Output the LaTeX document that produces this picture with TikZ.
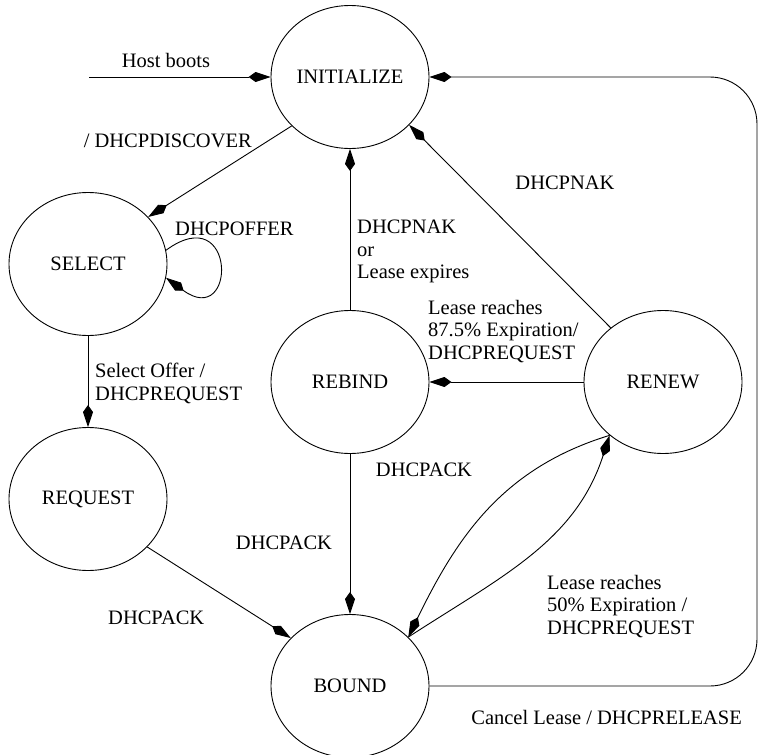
\documentclass[tikz,border=0pt]{standalone}
\usepackage{fontspec}
\setmainfont{Liberation Serif}
\usetikzlibrary{arrows.meta,shapes.geometric}
\begin{document}
\begin{tikzpicture}[x=1pt,y=-1pt,
  state/.style={ellipse,draw,line width=0.9pt,minimum width=158pt,minimum height=143pt,
    inner sep=0pt,font=\fontsize{20.5}{24}\selectfont},
  lbl/.style={font=\fontsize{20.5}{22.5}\selectfont,inner sep=0pt,align=left},
  tr/.style={line width=0.9pt,-{Kite[length=22pt,width=10pt,inset=7pt]}},
]
\useasboundingbox (0,0) rectangle (758,755);

% states of the DHCP client
\node[state] (init)    at (350,77)  {INITIALIZE};
\node[state] (select)  at (88,264)  {SELECT};
\node[state] (request) at (88,499)  {REQUEST};
\node[state] (rebind)  at (350,382) {REBIND};
\node[state] (renew)   at (663,382) {RENEW};
\node[state] (bound)   at (350,686) {BOUND};

% entry point
\coordinate (boot) at (89,77);
\draw[tr] (boot) -- (init);
\node[lbl,anchor=base] (lboot) at (166,67) {Host boots};

% transitions
\draw[tr] (init.220) -- (select.38);
\node[lbl,anchor=base east] (ldisc) at (252,147) {/ DHCPDISCOVER};

\draw[tr] (select.10) .. controls +(71,-52) and +(71,52) .. (select.-10);
\node[lbl,anchor=base west] (loffer) at (175,235) {DHCPOFFER};

\draw[tr] (select.south) -- (request.north);
\node[lbl,anchor=north west] (lsel) at (95,363) {Select Offer /\\DHCPREQUEST};

\draw[tr] (request.-39) -- (bound.141);
\node[lbl,anchor=base west] (lack1) at (108,624) {DHCPACK};

\draw[tr] (rebind.north) -- (init.south);
\node[lbl,anchor=north west] (lnak1) at (357,220) {DHCPNAK\\or\\Lease expires};

\draw[tr] (renew.134) -- (init.-39);
\node[lbl] (lnak2) at (565,183) {DHCPNAK};

\draw[tr] (renew.west) -- (rebind.east);
\node[lbl,anchor=north west] (lren) at (428,300) {Lease reaches\\87.5\% Expiration/\\DHCPREQUEST};

\draw[tr] (rebind.south) -- (bound.north);
\node[lbl] (lack2) at (284,543) {DHCPACK};

\draw[tr] (renew.225) to[out=197,in=64] (bound.40);
\node[lbl] (lack3) at (424,470) {DHCPACK};

\draw[tr] (bound.40) to[out=33,in=252] (renew.225);
\node[lbl,anchor=north west] (lhalf) at (547,575) {Lease reaches\\50\% Expiration /\\DHCPREQUEST};

\draw[tr,rounded corners=47pt] (bound.east) -- (757,686) -- (757,77) -- (init.east);
\node[lbl,anchor=base east] (lcancel) at (742,724) {Cancel Lease / DHCPRELEASE};
\end{tikzpicture}
\end{document}
